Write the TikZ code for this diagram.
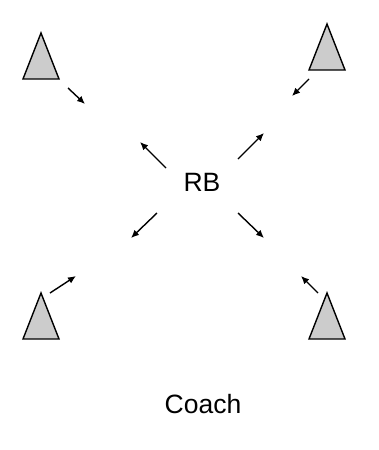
\documentclass[tikz,border=0pt]{standalone}
\usepackage{fontspec}
\setmainfont{Liberation Sans}
\usetikzlibrary{arrows.meta}
\definecolor{playergray}{RGB}{204, 204, 204}

\begin{document}
\begin{tikzpicture}[x=1pt, y=-1pt,
    player/.style={draw=black, fill=playergray, line width=1.4pt, line join=miter},
    move/.style={-{Latex[length=8pt, width=7pt]}, line width=1.4pt},
    label/.style={font=\fontsize{26.5}{30}\selectfont, inner sep=0pt}]
    \useasboundingbox (0,0) rectangle (378,450);

    %% defenders (triangles)
    \foreach \px/\py in {41/33, 327/24, 41/293, 327/293}
        \draw[player] (\px,\py) -- ++(18,46) -- ++(-36,0) -- cycle;

    %% labels
    \node[label] (rb) at (202,182) {RB};
    \node[label] (coach) at (203,404) {Coach};

    %% outer arrows, player to centre
    \foreach \name/\sx/\sy/\ex/\ey in {tl/68/88/85/104, tr/309/79/292/96,
                                       bl/50/293/76/276, br/318/293/301/276} {
        \coordinate (\name-s) at (\sx,\sy);
        \coordinate (\name-e) at (\ex,\ey);
        \draw[move] (\name-s) -- (\name-e);
    }

    %% inner arrows, out from RB
    \foreach \name/\sx/\sy/\ex/\ey in {ul/166/168/140/142, ur/238/159/264/133,
                                       ll/157/213/131/238, lr/238/213/264/238} {
        \coordinate (\name-s) at (\sx,\sy);
        \coordinate (\name-e) at (\ex,\ey);
        \draw[move] (\name-s) -- (\name-e);
    }
\end{tikzpicture}
\end{document}
